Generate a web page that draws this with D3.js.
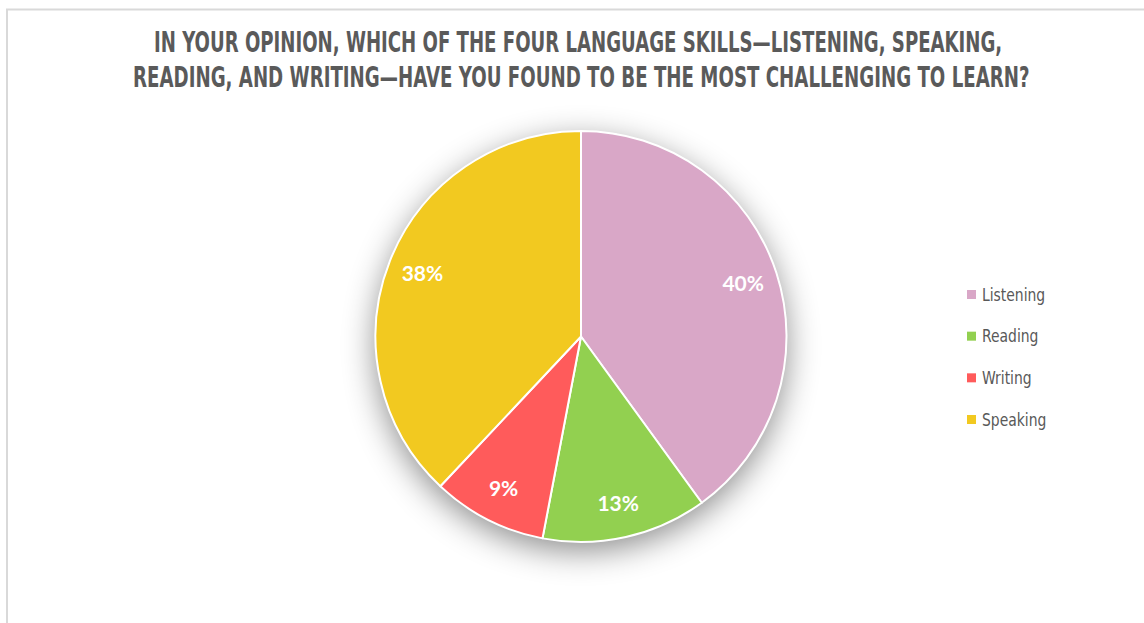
<!DOCTYPE html>
<html>
<head>
<meta charset="utf-8">
<script src="https://cdn.jsdelivr.net/npm/d3@7"></script>
<style>
  html, body { margin: 0; padding: 0; background: #ffffff; }
  svg { display: block; }
</style>
</head>
<body>
<svg id="chart" width="1144" height="623"></svg>
<script>
// Survey answers: which language skill is hardest to learn (percent of respondents)
const skills = ["Listening", "Reading", "Writing", "Speaking"];
const shares = [40, 13, 9, 38];
const sliceColors = ["#d9a7c7", "#92d050", "#ff5b5b", "#f2c920"];
const titleLines = [
  "IN YOUR OPINION, WHICH OF THE FOUR LANGUAGE SKILLS\u2014LISTENING, SPEAKING,",
  "READING, AND WRITING\u2014HAVE YOU FOUND TO BE THE MOST CHALLENGING TO LEARN?"
];

const svg = d3.select("#chart");
const W = 1144, H = 623;

// chart frame
svg.append("rect")
  .attr("x", 7).attr("y", 9.5)
  .attr("width", W + 20).attr("height", H + 20)
  .attr("fill", "#ffffff")
  .attr("stroke", "#d9d9d9").attr("stroke-width", 2);

// squeeze a text horizontally so it spans exactly the given width
function fitWidth(sel, x0, width) {
  const natural = sel.node().getComputedTextLength();
  const k = width / natural;
  sel.attr("x", 0).attr("transform", `translate(${x0},0) scale(${k},1)`);
}

// title
const title = svg.append("g")
  .attr("font-family", "'DejaVu Sans Condensed', 'Liberation Sans Narrow', sans-serif")
  .attr("font-weight", 700)
  .attr("font-size", 28.5)
  .attr("fill", "#5a5a5a");
const titleSpans = [[154, 1003, 52.5], [133, 1030, 87.5]];
titleLines.forEach((t, i) => {
  const [x0, x1, y] = titleSpans[i];
  const txt = title.append("text").attr("y", y).text(t);
  fitWidth(txt, x0, x1 - x0);
});

// soft outer shadow under the pie
const defs = svg.append("defs");
const f = defs.append("filter").attr("id", "pieShadow")
  .attr("x", "-50%").attr("y", "-50%").attr("width", "200%").attr("height", "200%");
f.append("feDropShadow")
  .attr("dx", 0).attr("dy", 9)
  .attr("stdDeviation", 16)
  .attr("flood-color", "#000000")
  .attr("flood-opacity", 0.45);

const cx = 581, cy = 336.5, R = 205.5;
const data = skills.map((s, i) => ({ skill: s, value: shares[i], color: sliceColors[i] }));

const pie = d3.pie().value(d => d.value).sort(null);
const arc = d3.arc().innerRadius(0).outerRadius(R);
const labelArc = d3.arc().innerRadius(R * 0.83).outerRadius(R * 0.83);

const g = svg.append("g").attr("transform", `translate(${cx},${cy})`);

// shadow disc
g.append("circle").attr("r", R).attr("fill", "#ffffff").attr("filter", "url(#pieShadow)");

const arcs = pie(data);
g.selectAll("path.slice")
  .data(arcs)
  .join("path")
  .attr("class", "slice")
  .attr("d", arc)
  .attr("fill", d => d.data.color)
  .attr("stroke", "#ffffff")
  .attr("stroke-width", 2)
  .attr("stroke-linejoin", "round");

g.selectAll("text.pct")
  .data(arcs)
  .join("text")
  .attr("class", "pct")
  .attr("transform", d => `translate(${labelArc.centroid(d)})`)
  .attr("text-anchor", "middle")
  .attr("dy", "0.36em")
  .attr("font-family", "Lato, 'Open Sans', sans-serif")
  .attr("font-weight", 700)
  .attr("font-size", 21)
  .attr("fill", "#ffffff")
  .text(d => d.data.value + "%");

// legend
const legendY = d3.scalePoint().domain(skills).range([294.5, 419.5]);
const legend = svg.append("g")
  .attr("font-family", "'DejaVu Sans Condensed', 'Liberation Sans Narrow', sans-serif")
  .attr("font-size", 18)
  .attr("fill", "#595959");
const items = legend.selectAll("g")
  .data(data)
  .join("g")
  .attr("transform", d => `translate(967,${legendY(d.skill)})`);
items.append("rect")
  .attr("x", 0).attr("y", -4.5)
  .attr("width", 9).attr("height", 9)
  .attr("fill", d => d.color);
items.append("text")
  .attr("x", 0)
  .attr("dy", "0.35em")
  .attr("transform", "translate(15,0) scale(0.86,1)")
  .text(d => d.skill);
</script>
</body>
</html>
